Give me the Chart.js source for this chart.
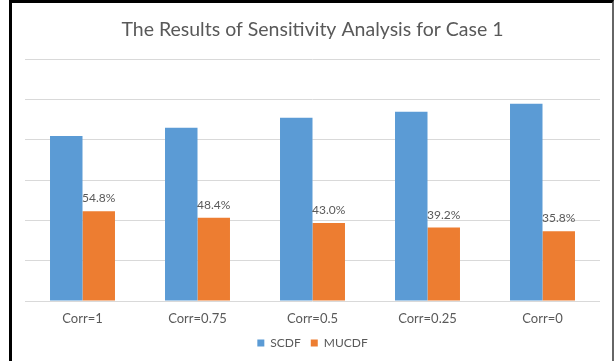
<!DOCTYPE html>
<html lang="en">
<head>
  <meta charset="UTF-8" />
  <title>The Results of Sensitivity Analysis for Case 1</title>
  <script src="https://cdn.jsdelivr.net/npm/chart.js"></script>
  <style>
    * { margin: 0; padding: 0; box-sizing: border-box; }
    body { background: #fff; width: 616px; height: 361px; overflow: hidden; position: relative; }
    .wrap { position: absolute; left: 0; top: 0; width: 616px; height: 361px; }
    .frame {
      position: absolute; left: 9px; top: 0; width: 605px; height: 361px;
      border-left: 3px solid #000; border-top: 3px solid #000; border-right: 2px solid #666;
      pointer-events: none;
    }
  </style>
</head>
<body>
<div class="wrap"><canvas id="chart" width="616" height="361"></canvas></div>
<div class="frame"></div>
<script>
const categories = ['Corr=1', 'Corr=0.75', 'Corr=0.5', 'Corr=0.25', 'Corr=0'];
const scdf = [82, 86, 91, 94, 98];
const mucdf = [44.6, 41.3, 38.8, 36.5, 34.7];
const mucdfLabels = ['54.8%', '48.4%', '43.0%', '39.2%', '35.8%'];

const textColor = '#595959';
const fontFamily = 'Lato, "Open Sans", sans-serif';

// labels above the orange bars
const barLabels = {
  id: 'barLabels',
  afterDatasetsDraw(chart) {
    const ctx = chart.ctx;
    const meta = chart.getDatasetMeta(1);
    ctx.save();
    ctx.font = '12px ' + fontFamily;
    ctx.fillStyle = textColor;
    ctx.textAlign = 'center';
    ctx.textBaseline = 'alphabetic';
    meta.data.forEach((bar, i) => {
      ctx.fillText(mucdfLabels[i], bar.x, bar.y - 9);
    });
    ctx.restore();
  }
};

new Chart(document.getElementById('chart'), {
  type: 'bar',
  data: {
    labels: categories,
    datasets: [
      { label: 'SCDF', data: scdf, backgroundColor: '#5B9BD5' },
      { label: 'MUCDF', data: mucdf, backgroundColor: '#ED7D31' }
    ]
  },
  options: {
    responsive: false,
    animation: false,
    devicePixelRatio: 1,
    layout: { padding: { left: 25, right: 16, top: 18, bottom: 2 } },
    datasets: { bar: { categoryPercentage: 0.565, barPercentage: 1.0 } },
    plugins: {
      title: {
        display: true,
        text: 'The Results of Sensitivity Analysis for Case 1',
        color: textColor,
        font: { family: fontFamily, size: 19.5, weight: 'normal' },
        padding: { top: 0, bottom: 18 }
      },
      legend: {
        position: 'bottom',
        labels: {
          color: textColor,
          font: { family: fontFamily, size: 12 },
          boxWidth: 7,
          boxHeight: 7,
          padding: 10
        }
      },
      tooltip: { enabled: false }
    },
    scales: {
      x: {
        grid: { display: false, drawTicks: false },
        border: { display: false },
        ticks: { color: textColor, font: { family: fontFamily, size: 13 }, padding: 10 },
        afterFit(scale) { scale.height = 26; }
      },
      y: {
        min: 0,
        max: 120,
        ticks: { display: false, stepSize: 20 },
        grid: { color: '#D9D9D9', drawTicks: false },
        border: { display: false }
      }
    }
  },
  plugins: [barLabels]
});
</script>
</body>
</html>
